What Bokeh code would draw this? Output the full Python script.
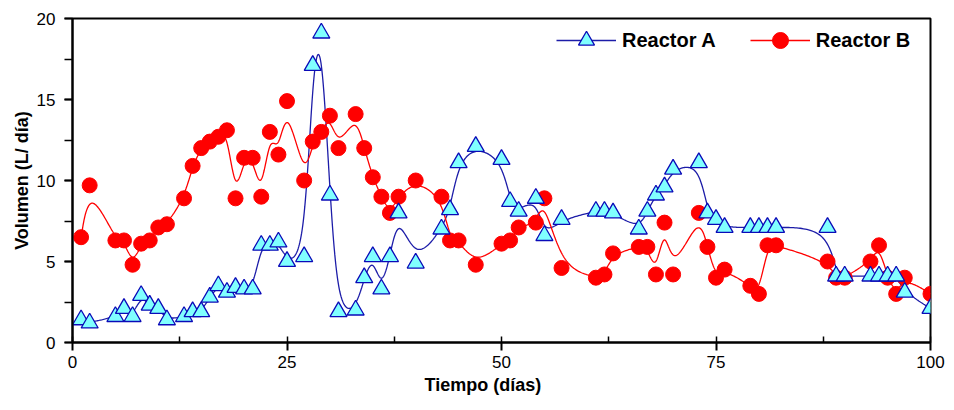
import numpy as np
from bokeh.plotting import figure
from bokeh.models import (ColumnDataSource, Legend, LegendItem, SingleIntervalTicker,
                          Title, Range1d)
from bokeh.embed import file_html
from bokeh.resources import INLINE

# ---------------- data ----------------
days_a = [1, 2, 5, 6, 7, 8, 9, 10, 11, 13, 14, 15, 16, 17, 18, 19, 20, 21, 22, 23, 24, 25,
          27, 28, 29, 30, 31, 33, 34, 35, 36, 37, 38, 40, 43, 44, 45, 47, 50, 51, 52, 54,
          55, 57, 61, 62, 63, 66, 67, 68, 69, 70, 73, 74, 75, 76, 79, 80, 81, 82, 88, 89,
          90, 93, 94, 95, 96, 97, 100]
vol_a = [1.4, 1.2, 1.6, 2.1, 1.6, 2.9, 2.3, 2.1, 1.4, 1.6, 1.9, 1.9, 2.8, 3.5, 3.1, 3.4, 3.3,
         3.3, 6.0, 6.0, 6.2, 5.0, 5.3, 17.1, 19.1, 9.1, 1.9, 2.0, 4.0, 5.3, 3.3, 5.3, 8.0,
         4.9, 7.0, 8.2, 11.1, 12.1, 11.3, 8.7, 8.1, 8.9, 6.6, 7.6, 8.1, 8.1, 8.0, 7.0, 8.1,
         9.1, 9.6, 10.7, 11.1, 8.0, 7.6, 7.1, 7.1, 7.1, 7.1, 7.1, 7.1, 4.1, 4.1, 4.1, 4.1,
         4.1, 4.1, 3.1, 2.1]

days_b = [1, 2, 5, 6, 7, 8, 9, 10, 11, 13, 14, 15, 16, 17, 18, 19, 20, 21, 22, 23, 24, 25,
          27, 28, 29, 30, 31, 33, 34, 35, 36, 37, 38, 40, 43, 44, 45, 47, 50, 51, 52, 54,
          55, 57, 61, 62, 63, 66, 67, 68, 69, 70, 73, 74, 75, 76, 79, 80, 81, 82, 88, 89,
          90, 93, 94, 95, 96, 97, 100]
vol_b = [6.5, 9.7, 6.3, 6.3, 4.8, 6.1, 6.3, 7.1, 7.3, 8.9, 10.9, 12.0, 12.4, 12.7, 13.1, 8.9,
         11.4, 11.4, 9.0, 13.0, 11.6, 14.9, 10.0, 12.4, 13.0, 14.0, 12.0, 14.1, 12.0, 10.2,
         9.0, 8.0, 9.0, 10.0, 9.0, 6.3, 6.3, 4.8, 6.1, 6.3, 7.1, 7.4, 8.9, 4.6, 4.0, 4.2,
         5.5, 5.9, 5.9, 4.2, 7.4, 4.2, 8.0, 5.9, 4.0, 4.5, 3.5, 3.0, 6.0, 6.0, 5.0, 4.0,
         4.0, 5.0, 6.0, 4.0, 3.0, 4.0, 3.0]

series_names = ["Reactor A", "Reactor B"]
x_ticks = [0, 25, 50, 75, 100]
y_ticks = [0, 5, 10, 15, 20]


def bspline(xs, ys, n=24):
    """Uniform cubic B-spline using the data points as control points (ends clamped)."""
    P = np.column_stack([np.asarray(xs, float), np.asarray(ys, float)])
    P = np.vstack([P[0], P[0], P, P[-1], P[-1]])
    t = np.linspace(0, 1, n, endpoint=False)[:, None]
    b0 = (1 - t) ** 3 / 6
    b1 = (3 * t ** 3 - 6 * t ** 2 + 4) / 6
    b2 = (-3 * t ** 3 + 3 * t ** 2 + 3 * t + 1) / 6
    b3 = t ** 3 / 6
    segs = [b0 * P[i] + b1 * P[i + 1] + b2 * P[i + 2] + b3 * P[i + 3]
            for i in range(len(P) - 3)]
    C = np.vstack(segs + [P[-1][None, :]])
    return C[:, 0], C[:, 1]


ca_x, ca_y = bspline(days_a, vol_a)
cb_x, cb_y = bspline(days_b, vol_b)

src_a = ColumnDataSource(dict(x=days_a, y=vol_a))
src_b = ColumnDataSource(dict(x=days_b, y=vol_b))
crv_a = ColumnDataSource(dict(x=ca_x, y=ca_y))
crv_b = ColumnDataSource(dict(x=cb_x, y=cb_y))

FONT = "'Liberation Sans', Arial, sans-serif"

p = figure(width=954, height=410, output_backend="svg", toolbar_location=None,
           x_range=Range1d(0, 100), y_range=Range1d(0, 20),
           min_border_left=72, min_border_right=24, min_border_top=18,
           min_border_bottom=68)
p.background_fill_color = "white"
p.border_fill_color = "white"
p.outline_line_color = "black"
p.outline_line_width = 2
p.xgrid.visible = False
p.ygrid.visible = False

BLUE_LINE = "#1c1ca8"
BLUE_EDGE = "#0a0ab8"
CYAN = "#80ffff"
RED = "#ff0000"

la = p.line("x", "y", source=crv_a, line_color=BLUE_LINE, line_width=1.3)
lb = p.line("x", "y", source=crv_b, line_color=RED, line_width=1.3)
sb = p.scatter("x", "y", source=src_b, marker="circle", size=15,
               fill_color=RED, line_color=RED, line_width=1)
sa = p.scatter("x", "y", source=src_a, marker="triangle", size=17,
               fill_color=CYAN, line_color=BLUE_EDGE, line_width=1.3)

# axes
for ax in (p.xaxis[0], p.yaxis[0]):
    ax.axis_line_width = 2
    ax.axis_line_color = "black"
    ax.major_tick_line_width = 2
    ax.minor_tick_line_width = 1.5
    ax.major_tick_line_color = "black"
    ax.minor_tick_line_color = "black"
    ax.major_label_text_font = FONT
    ax.major_label_text_font_size = "17px"
    ax.major_label_text_color = "black"

p.xaxis.ticker = SingleIntervalTicker(interval=25, num_minor_ticks=2)
p.xaxis.major_tick_out = 8
p.xaxis.major_tick_in = 0
p.xaxis.minor_tick_in = 6
p.xaxis.minor_tick_out = 0
p.xaxis.major_label_standoff = 5
p.xaxis.major_label_overrides = {v: str(v) for v in x_ticks}

p.yaxis.ticker = SingleIntervalTicker(interval=5, num_minor_ticks=2)
p.yaxis.major_tick_out = 8
p.yaxis.major_tick_in = 0
p.yaxis.minor_tick_out = 8
p.yaxis.minor_tick_in = 0
p.yaxis.major_label_standoff = 9
p.yaxis.major_label_overrides = {v: str(v) for v in y_ticks}
p.yaxis.axis_label = "Volumen (L/ día)"
p.yaxis.axis_label_text_font = FONT
p.yaxis.axis_label_text_font_style = "bold"
p.yaxis.axis_label_text_font_size = "18px"
p.yaxis.axis_label_standoff = 2
p.yaxis.axis_label_text_color = "black"

# x-axis title (slightly left of centre, as in the original)
xt = Title(text="Tiempo (días)", align="left", offset=352,
           text_font=FONT, text_font_style="bold", text_font_size="18px",
           text_color="black", standoff=4)
p.add_layout(xt, "below")

legend = Legend(items=[LegendItem(label=series_names[0], renderers=[la, sa]),
                       LegendItem(label=series_names[1], renderers=[lb, sb])],
                orientation="horizontal", location=(484, 282),
                glyph_width=60, glyph_height=40, label_standoff=6, spacing=34,
                padding=0, margin=0, border_line_color=None,
                background_fill_alpha=0,
                label_text_font=FONT, label_text_font_style="bold",
                label_text_font_size="20px", label_text_color="black")
p.add_layout(legend)

open("out.html", "w").write(file_html(p, INLINE))
